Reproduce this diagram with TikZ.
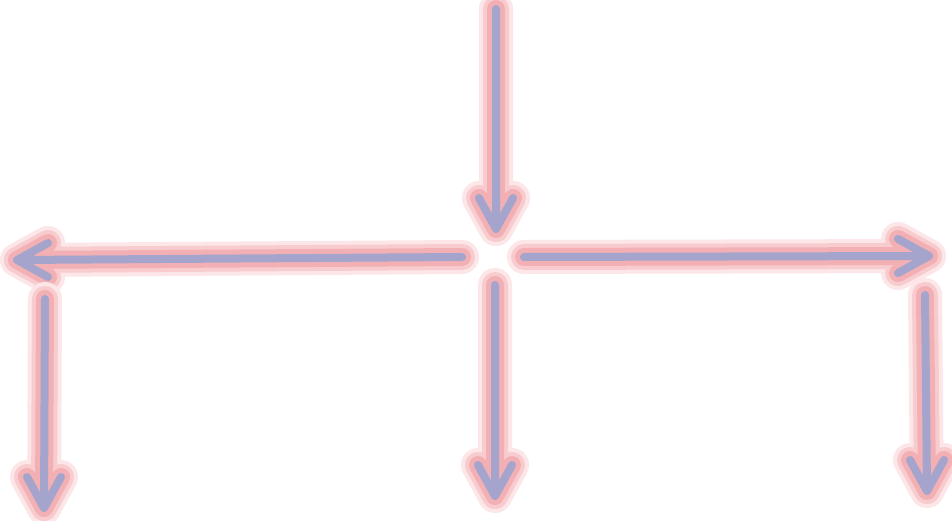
\documentclass[tikz,border=0pt]{standalone}
\usepackage{tikz}
\definecolor{haloout}{HTML}{FCE6E8}
\definecolor{halomid}{HTML}{F8CBCE}
\definecolor{haloin}{HTML}{F2B0B4}
\definecolor{shaft}{HTML}{A4A4CC}
\begin{document}
\begin{tikzpicture}[x=1pt,y=-1pt,
	arrowline/.style={draw=shaft,line width=8pt,line cap=round,line join=round,
		preaction={draw=haloout,line width=34pt,line cap=round,line join=round},
		preaction={draw=halomid,line width=26pt,line cap=round,line join=round},
		preaction={draw=haloin,line width=18pt,line cap=round,line join=round}}]
	\useasboundingbox[fill=white] (0,0) rectangle (952,521);
	
	\coordinate (topTail) at (496,9);
	\coordinate (topTip) at (496,229);
	\coordinate (leftTail) at (462,257);
	\coordinate (leftTip) at (17,260);
	\coordinate (rightTail) at (524,257);
	\coordinate (rightTip) at (929,256);
	\coordinate (lvTail) at (45,299);
	\coordinate (lvTip) at (44,508);
	\coordinate (cvTail) at (495,285);
	\coordinate (cvTip) at (495,496);
	\coordinate (rvTail) at (925,295);
	\coordinate (rvTip) at (927,491);
	
	\draw[arrowline] (topTail)--(topTip) ++(-17,-31)--(topTip)--++(17,-31);
	\draw[arrowline] (leftTail)--(leftTip) ++(31,-17)--(leftTip)--++(31,17);
	\draw[arrowline] (rightTail)--(rightTip) ++(-31,-17)--(rightTip)--++(-31,17);
	\draw[arrowline] (lvTail)--(lvTip) ++(-17,-31)--(lvTip)--++(17,-31);
	\draw[arrowline] (cvTail)--(cvTip) ++(-17,-31)--(cvTip)--++(17,-31);
	\draw[arrowline] (rvTail)--(rvTip) ++(-17,-31)--(rvTip)--++(17,-31);
\end{tikzpicture}
\end{document}
